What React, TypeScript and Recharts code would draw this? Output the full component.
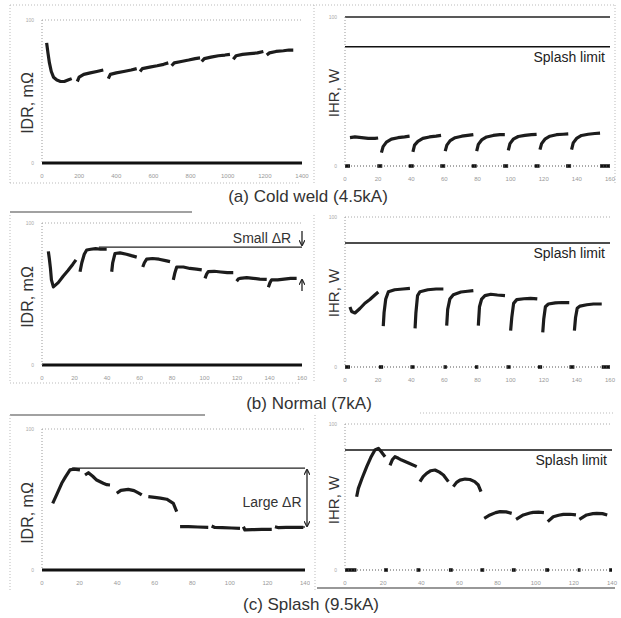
import React from 'react';
import { LineChart, Line, XAxis, YAxis, ReferenceLine } from 'recharts';

type Seg = number[][];

// (a) cold weld 4.5kA — IDR (time 0..1400) and IHR (time 0..160), values in % of axis
const coldIdr: Seg[] = [
  [[25, 84], [32, 77], [40, 70], [50, 64], [62, 60], [80, 58], [100, 57], [120, 57], [140, 58], [160, 59]],
  [[190, 57], [200, 60], [225, 62], [260, 63], [295, 64], [330, 65]],
  [[357, 59], [368, 62], [400, 63], [440, 64], [480, 65], [510, 66]],
  [[528, 64], [540, 66], [580, 67], [620, 68], [655, 69], [680, 70]],
  [[698, 68], [712, 70], [750, 71], [790, 72], [825, 73], [851, 73.5]],
  [[860, 71], [874, 73], [910, 74], [950, 75], [985, 75.5], [1012, 76]],
  [[1030, 72.5], [1045, 75], [1080, 76], [1120, 76.5], [1160, 77], [1192, 78]],
  [[1210, 75.5], [1225, 77], [1260, 78], [1300, 78.5], [1330, 79], [1353, 79]],
];
const coldIhr: Seg[] = [
  [[3, 19], [6, 19.5], [10, 19], [14, 18.5], [18, 18.5], [20, 18.8]],
  [[22, 9], [23, 13], [25, 16], [28, 18], [32, 19], [36, 19.5], [39, 20]],
  [[41, 9.5], [42, 14], [44, 16.5], [47, 18.5], [51, 19.5], [55, 20], [58, 20.5]],
  [[60.5, 10], [61.5, 14], [63.5, 17], [66.5, 19], [70.5, 20], [74, 20.5], [77.5, 21]],
  [[79.5, 10], [80.5, 14.5], [82.5, 17.5], [85.5, 19.5], [89.5, 20.5], [93.5, 21], [96.5, 21]],
  [[98.6, 10.5], [99.6, 15], [101.6, 18], [104.6, 19.8], [108.6, 20.5], [112.6, 21], [115.7, 21.2]],
  [[117.7, 11], [118.7, 15], [120.7, 18], [123.7, 20], [127.7, 21], [131.7, 21.3], [134.8, 21.5]],
  [[136.8, 11], [137.8, 15.5], [139.8, 18.5], [142.8, 20.5], [146.8, 21.3], [150.8, 21.8], [154, 22]],
];
const coldIhrOff = [[0, 3], [19.5, 22.5], [38.5, 41.5], [57.5, 60.5], [76.5, 79.5], [95.5, 98.5], [114.5, 117.5], [133.5, 136.5], [154, 160]];

// (b) normal 7kA
const normalIdr: Seg[] = [
  [[3.9, 80], [4.5, 75], [5.2, 68], [5.8, 60], [7, 55], [10, 58], [13, 62.5], [16, 66.5], [19, 71], [20.9, 74]],
  [[23.4, 65.7], [24.5, 72], [26, 78], [27.5, 81], [30, 81.5], [33, 82], [36, 81.5], [39.8, 81.5]],
  [[42.9, 65.7], [43.5, 72], [44.9, 78.5], [48, 79], [52, 78], [55, 77], [58.3, 76]],
  [[62, 69], [63, 72], [64.4, 74.5], [68, 75], [72, 74.5], [76, 73.5], [78.8, 72.8]],
  [[80.8, 60], [81.8, 65], [82.9, 69], [87, 69], [91, 68], [95, 67.5], [98.3, 67]],
  [[100.3, 61], [101.3, 64], [102.3, 65.7], [106, 66], [110, 65.5], [114, 65], [117.7, 65]],
  [[119.8, 59], [120.8, 60.5], [121.8, 61], [126, 61.5], [130, 61], [134, 60.5], [138.3, 60.3]],
  [[139.3, 54.7], [140.3, 58], [141.3, 60], [145, 60], [149, 60.5], [153, 61], [156.7, 61]],
];
const normalIhr: Seg[] = [
  [[3, 40], [4, 37], [6, 36], [9, 39], [12, 42.5], [15, 45], [18, 48], [20.1, 50]],
  [[23.1, 27.3], [23.6, 36.4], [24.6, 45.3], [26.2, 50.2], [30, 51.5], [35, 52], [39.2, 52.4]],
  [[42.3, 25.8], [42.8, 36], [43.8, 47.6], [45.3, 50.2], [50, 51.5], [55, 52], [59.4, 52]],
  [[61.4, 27.6], [62, 38.4], [63.3, 45.3], [65.4, 48.2], [70, 50], [74, 50.5], [77.5, 50.9]],
  [[80.5, 27.6], [81.2, 40.2], [82.5, 45.3], [84.5, 47.6], [88, 48.5], [92, 48], [96.6, 47.6]],
  [[100, 24.2], [100.7, 33.1], [101.8, 42.4], [103.7, 44.9], [108, 45.5], [112, 45.8], [116.1, 45.4]],
  [[119.4, 23.1], [120, 32], [121, 40.2], [122.8, 42], [127, 42.8], [131, 43], [135.4, 42.9]],
  [[138.5, 24.2], [139.2, 33], [140.2, 39.1], [141.9, 40.6], [146, 41.5], [150, 42], [155, 42]],
];
const normalIhrOff = [[0, 3], [20.5, 23], [39.5, 42], [59.5, 61.5], [78.5, 80.5], [97.5, 100], [116.5, 119], [135.5, 138.5], [155, 160]];

// (c) splash 9.5kA
const splashIdr: Seg[] = [
  [[5.7, 47.3], [8, 54], [10.5, 61.5], [12.5, 66], [14.9, 71], [17, 71.5], [20.2, 71]],
  [[22.9, 67.4], [24.7, 69], [27, 66.5], [29.1, 63.8], [32.6, 61.5], [34.5, 60.5], [36.2, 60.3]],
  [[39.8, 54.4], [42, 56.5], [45.9, 57.2], [49, 56.3], [51.5, 54.5], [53.1, 53.2]],
  [[56.6, 52], [60, 51.5], [63, 51], [66.4, 50.2], [69.9, 47.3], [71.7, 41.4]],
  [[73.5, 30.7], [78, 30.8], [83, 30.5], [88.5, 30.3]],
  [[90.3, 31.2], [92, 30.2], [96, 30], [101, 29.8], [105.4, 29.5]],
  [[107.2, 30.7], [108, 28.4], [112, 28.6], [117, 28.8], [122.3, 28.8]],
  [[124, 30.7], [126, 30], [130, 30.2], [135, 30.3], [139.1, 30.3]],
];
const splashIhr: Seg[] = [
  [[6.1, 50.2], [7, 55.9], [9, 63], [11.4, 70.8], [13.5, 77], [15.7, 82.2], [17.5, 83.3], [19, 81], [21, 77.6]],
  [[23.6, 71.7], [24.8, 75.5], [26.2, 77.6], [28, 76.5], [29.7, 75.3], [33, 73.5], [37.6, 70.8]],
  [[39.3, 60.5], [41, 64], [42.8, 66.2], [45, 68], [47.2, 68.5], [49.5, 67], [51.6, 65.1], [54.2, 60.5]],
  [[56.8, 57.1], [58.5, 60], [60.3, 61.6], [63, 62.3], [65.5, 62], [68, 60.5], [69.9, 58.2], [71.3, 53.7]],
  [[73, 35.4], [76, 37.7], [79, 39.3], [81.3, 40], [84.5, 39.8], [87.4, 38.8]],
  [[89.7, 34.7], [93.5, 37.7], [97, 39], [98.7, 39.5], [101.5, 39.6], [104.3, 39.3]],
  [[106.3, 33.1], [109.2, 36.5], [112, 37.5], [114.5, 38.1], [118, 38.2], [121.1, 37.7]],
  [[122.9, 34.7], [126.7, 37.7], [130, 38.6], [132, 38.8], [135, 38.6], [137.5, 37.7]],
];
const splashIhrOff = [[0, 6], [20.5, 22.5], [37.5, 39.5], [54.5, 56.5], [71, 73], [87.5, 89.5], [105, 107], [122, 123.5], [138.5, 140]];

const ticks1400 = [0, 200, 400, 600, 800, 1000, 1200, 1400];
const ticks160 = [0, 20, 40, 60, 80, 100, 120, 140, 160];
const ticks140 = [0, 20, 40, 60, 80, 100, 120, 140];

const splashLimitA = 80;
const splashLimitB = 82.7;
const splashLimitC = 82.2;
const smallDrTop = 83;
const largeDrTop = 72.3;
const largeDrBottom = 30.5;

const toRows = (segs: Seg[]) => {
  const rows: { t: number; v: number | null }[] = [];
  segs.forEach((s, i) => {
    if (i > 0) {
      const prev = segs[i - 1];
      rows.push({ t: (prev[prev.length - 1][0] + s[0][0]) / 2, v: null });
    }
    s.forEach(([t, v]) => rows.push({ t, v }));
  });
  return rows;
};

const offRows = (offs: number[][]) => toRows(offs.map(([a, b]) => [[a, 0], [b, 0]]));

interface PanelProps {
  left: number;
  top: number;
  width: number;
  height: number;
  mTop: number;
  mRight: number;
  yW: number;
  xMax: number;
  ticks: number[];
  segs: Seg[];
  offs?: number[][];
  heavyBase?: boolean;
  topSolid?: boolean;
  splash?: number;
  children?: React.ReactNode;
}

const Panel: React.FC<PanelProps> = p => {
  const dotted = { stroke: '#999', strokeDasharray: '1 2' };
  return (
    <div style={{ position: 'absolute', left: p.left, top: p.top }}>
      <LineChart width={p.width} height={p.height} margin={{ top: p.mTop, right: p.mRight, left: 0, bottom: 0 }}>
        <XAxis
          type="number"
          dataKey="t"
          domain={[0, p.xMax]}
          ticks={p.ticks}
          allowDataOverflow
          height={22}
          tickLine={false}
          tickMargin={5}
          axisLine={p.heavyBase ? { stroke: '#111', strokeWidth: 3 } : { stroke: '#555', strokeDasharray: '1 2' }}
          tick={{ fontSize: 6, fill: '#999' }}
        />
        <YAxis
          type="number"
          domain={[0, 100]}
          ticks={[0, 100]}
          width={p.yW}
          tickLine={false}
          axisLine={dotted}
          tick={{ fontSize: 5, fill: '#aaa' }}
        />
        <ReferenceLine y={100} stroke={p.topSolid ? '#222' : '#aaa'} strokeWidth={p.topSolid ? 1.5 : 1} strokeDasharray={p.topSolid ? undefined : '1 2'} />
        {p.splash !== undefined && (
          <ReferenceLine
            y={p.splash}
            stroke="#111"
            strokeWidth={1.5}
            label={{ value: 'Splash limit', position: 'insideTopRight', fill: '#222', fontSize: 14, offset: 5 }}
          />
        )}
        {p.children}
        {p.offs && (
          <Line data={offRows(p.offs)} dataKey="v" stroke="#111" strokeWidth={3.5} dot={false} connectNulls={false} isAnimationActive={false} />
        )}
        <Line
          data={toRows(p.segs)}
          dataKey="v"
          stroke="#1c1c1c"
          strokeWidth={3.2}
          strokeLinejoin="round"
          dot={false}
          connectNulls={false}
          isAnimationActive={false}
        />
      </LineChart>
    </div>
  );
};

const Txt: React.FC<{ x: number; y: number; size: number; rotate?: boolean; children: React.ReactNode }> = ({ x, y, size, rotate, children }) => (
  <div
    style={{
      position: 'absolute',
      left: x,
      top: y,
      fontSize: size,
      color: '#333',
      whiteSpace: 'nowrap',
      transform: `translate(-50%, -50%)${rotate ? ' rotate(-90deg)' : ''}`,
    }}
  >
    {children}
  </div>
);

export default function App() {
  const dot = { stroke: '#bbb', strokeDasharray: '1 2', strokeWidth: 1 };
  return (
    <div
      style={{
        position: 'absolute',
        left: 0,
        top: 0,
        width: 621,
        height: 618,
        background: '#fff',
        overflow: 'hidden',
        fontFamily: '"Liberation Sans", Arial, sans-serif',
      }}
    >
      <svg width={621} height={618} style={{ position: 'absolute', left: 0, top: 0 }}>
        <defs>
          <marker id="ah" markerWidth="6" markerHeight="6" refX="5" refY="3" orient="auto-start-reverse" markerUnits="userSpaceOnUse">
            <path d="M0,0 L6,3 L0,6" fill="none" stroke="#222" strokeWidth="1.2" />
          </marker>
        </defs>
        {/* row a frame */}
        <line x1={10} y1={5} x2={615} y2={5} {...dot} />
        <line x1={10} y1={5} x2={10} y2={183} {...dot} />
        <line x1={10} y1={183} x2={300} y2={183} {...dot} />
        <line x1={314} y1={5} x2={314} y2={183} {...dot} />
        <line x1={615} y1={5} x2={615} y2={183} {...dot} />
        {/* row b frame */}
        <line x1={10} y1={212} x2={192} y2={212} stroke="#444" strokeWidth={1.2} />
        <line x1={10} y1={215} x2={10} y2={383} {...dot} />
        <line x1={10} y1={383} x2={300} y2={383} {...dot} />
        <line x1={314} y1={215} x2={314} y2={383} {...dot} />
        {/* row c frame */}
        <line x1={10} y1={415} x2={205} y2={415} stroke="#444" strokeWidth={1.2} />
        <line x1={10} y1={415} x2={10} y2={590} {...dot} />
        <line x1={315} y1={415} x2={315} y2={590} {...dot} />
        <line x1={420} y1={413} x2={615} y2={413} {...dot} />
        <line x1={317} y1={588} x2={615} y2={588} stroke="#333" strokeWidth={1.2} />
        {/* delta R arrows */}
        <line x1={302} y1={231} x2={302} y2={245} stroke="#222" strokeWidth={1.3} markerEnd="url(#ah)" />
        <line x1={302} y1={291} x2={302} y2={280} stroke="#222" strokeWidth={1.3} markerEnd="url(#ah)" />
        <line x1={307} y1={470} x2={307} y2={526} stroke="#222" strokeWidth={1.3} markerStart="url(#ah)" markerEnd="url(#ah)" />
      </svg>

      <Panel left={0} top={0} width={310} height={185} mTop={20} mRight={8} yW={42} xMax={1400} ticks={ticks1400} segs={coldIdr} heavyBase />
      <Panel left={315} top={0} width={305} height={188} mTop={17} mRight={10} yW={30} xMax={160} ticks={ticks160} segs={coldIhr} offs={coldIhrOff} topSolid splash={splashLimitA} />

      <Panel left={0} top={200} width={310} height={187} mTop={23} mRight={8} yW={42} xMax={160} ticks={ticks160} segs={normalIdr} heavyBase>
        <ReferenceLine segment={[{ x: 35, y: smallDrTop }, { x: 160, y: smallDrTop }]} stroke="#222" strokeWidth={1.3} ifOverflow="visible" />
      </Panel>
      <Panel left={315} top={200} width={305} height={189} mTop={17} mRight={10} yW={30} xMax={160} ticks={ticks160} segs={normalIhr} offs={normalIhrOff} splash={splashLimitB} />

      <Panel left={0} top={410} width={310} height={182} mTop={19} mRight={5} yW={42} xMax={140} ticks={ticks140} segs={splashIdr} heavyBase>
        <ReferenceLine segment={[{ x: 16, y: largeDrTop }, { x: 140, y: largeDrTop }]} stroke="#222" strokeWidth={1.3} ifOverflow="visible" />
        <ReferenceLine segment={[{ x: 125, y: largeDrBottom }, { x: 140, y: largeDrBottom }]} stroke="#222" strokeWidth={1.3} ifOverflow="visible" />
      </Panel>
      <Panel left={315} top={410} width={305} height={182} mTop={14} mRight={8} yW={30} xMax={140} ticks={ticks140} segs={splashIhr} offs={splashIhrOff} splash={splashLimitC} />

      <Txt x={28} y={103} size={16} rotate>IDR, mΩ</Txt>
      <Txt x={333} y={93} size={15} rotate>IHR, W</Txt>
      <Txt x={28} y={297} size={16} rotate>IDR, mΩ</Txt>
      <Txt x={333} y={293} size={15} rotate>IHR, W</Txt>
      <Txt x={28} y={513} size={16} rotate>IDR, mΩ</Txt>
      <Txt x={333} y={500} size={15} rotate>IHR, W</Txt>

      <Txt x={262} y={238} size={14}>Small ΔR</Txt>
      <Txt x={272} y={502} size={14}>Large ΔR</Txt>

      <Txt x={308} y={197} size={17}>(a) Cold weld (4.5kA)</Txt>
      <Txt x={309} y={404} size={17}>(b) Normal (7kA)</Txt>
      <Txt x={311} y={605} size={17}>(c) Splash (9.5kA)</Txt>
    </div>
  );
}
